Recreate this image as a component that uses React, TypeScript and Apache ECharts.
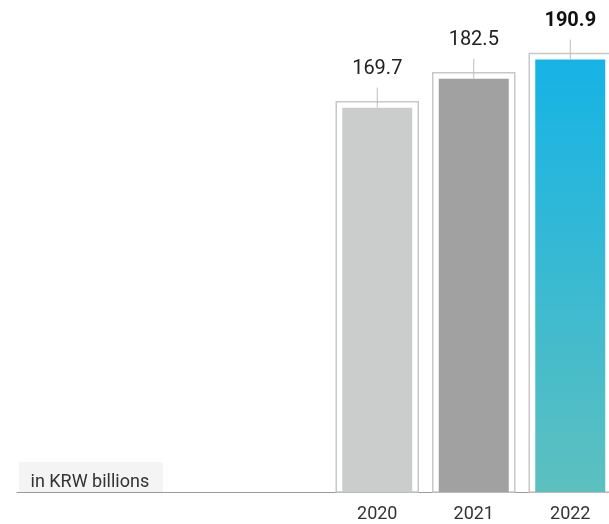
import React, { useEffect, useRef } from "react";
import * as echarts from "echarts";

const years = ["2020", "2021", "2022"];
const values = [169.7, 182.5, 190.9];
const unitLabel = "in KRW billions";
const yMax = 200;

const FONT = "Roboto, 'Noto Sans', sans-serif";

export default function App() {
  const ref = useRef<HTMLDivElement>(null);

  useEffect(() => {
    if (!ref.current) return;
    const chart = echarts.init(ref.current, null, { renderer: "svg" });

    const fills = [
      "#cbcdcc",
      "#a0a1a0",
      new echarts.graphic.LinearGradient(0, 0, 0, 1, [
        { offset: 0, color: "#16b3e5" },
        { offset: 1, color: "#5dc0bf" },
      ]),
    ];

    const option: any = {
      animation: false,
      grid: [
        {
          left: 329,
          width: 289.5,
          top: 39,
          bottom: 32,
          containLabel: false,
          outerBoundsMode: "none",
        },
        {
          left: 17,
          right: 0,
          top: 39,
          bottom: 32,
          containLabel: false,
          outerBoundsMode: "none",
        },
      ],
      xAxis: [
        {
          type: "category",
          gridIndex: 0,
          data: years,
          axisLine: { show: false },
          axisTick: { show: false },
          axisLabel: {
            color: "#333",
            fontSize: 18,
            fontFamily: FONT,
            margin: 11,
          },
        },
        {
          type: "value",
          gridIndex: 1,
          min: 0,
          max: 1,
          axisLine: { show: true, lineStyle: { color: "#9a9a9a", width: 1 } },
          axisTick: { show: false },
          axisLabel: { show: false },
          splitLine: { show: false },
        },
      ],
      yAxis: [
        { type: "value", gridIndex: 0, min: 0, max: yMax, show: false },
        { type: "value", gridIndex: 1, min: 0, max: 1, show: false },
      ],
      graphic: [
        {
          type: "rect",
          x: 19,
          y: 462,
          shape: { width: 144, height: 30 },
          style: { fill: "#f4f4f4" },
          z: 0,
        },
        {
          type: "text",
          x: 30.5,
          y: 480,
          style: {
            text: unitLabel,
            fontSize: 18,
            fontFamily: FONT,
            fill: "#333",
            verticalAlign: "middle",
          },
          z: 1,
        },
      ],
      series: [
        {
          type: "custom",
          xAxisIndex: 0,
          yAxisIndex: 0,
          clip: false,
          data: values.map((v, i) => [i, v]),
          encode: { x: 0, y: 1 },
          renderItem: (params: any, api: any) => {
            const i = api.value(0);
            const v = api.value(1);
            const top = api.coord([i, v]);
            const base = api.coord([i, 0]);
            const cx = top[0];
            const ty = top[1];
            const by = base[1];
            const isLast = params.dataIndex === values.length - 1;
            return {
              type: "group",
              children: [
                {
                  type: "rect",
                  shape: { x: cx - 41, y: ty - 6, width: 82, height: by - ty + 6 },
                  style: { fill: "#ffffff", stroke: "#c8c8c8", lineWidth: 1.5 },
                },
                {
                  type: "rect",
                  shape: { x: cx - 35, y: ty, width: 70, height: by - ty },
                  style: { fill: fills[params.dataIndex] },
                },
                {
                  type: "line",
                  shape: { x1: cx, y1: ty - 20, x2: cx, y2: ty },
                  style: { stroke: "#bdbdbd", lineWidth: 1 },
                },
                {
                  type: "text",
                  x: cx,
                  y: ty - 41,
                  style: {
                    text: v.toFixed(1),
                    fontSize: 20,
                    fontFamily: FONT,
                    fontWeight: isLast ? "bold" : "normal",
                    fill: isLast ? "#111" : "#222",
                    align: "center",
                    verticalAlign: "middle",
                  },
                },
              ],
            };
          },
        },
      ],
    };

    chart.setOption(option);
    return () => chart.dispose();
  }, []);

  return (
    <div
      ref={ref}
      style={{ position: "fixed", left: 0, top: 0, width: 609, height: 524 }}
    />
  );
}
